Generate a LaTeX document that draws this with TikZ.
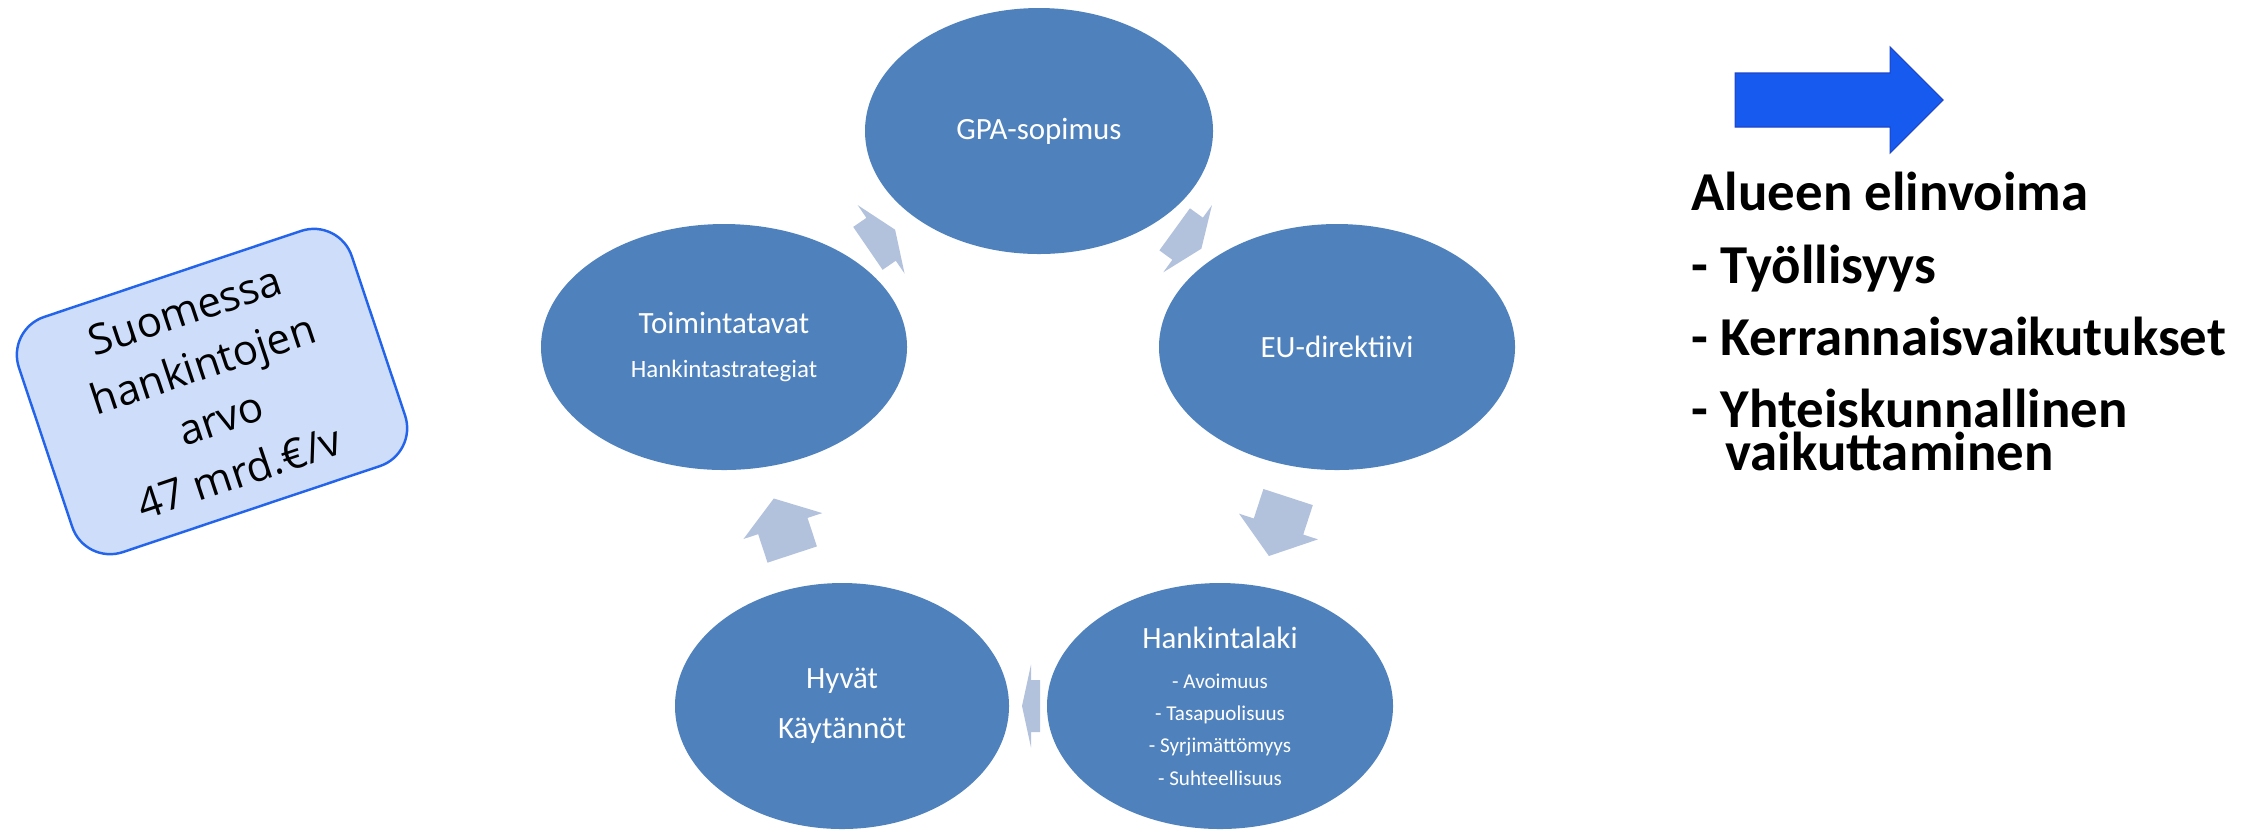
\documentclass[tikz,border=0pt]{standalone}
\usepackage{fontspec}
\setmainfont{Carlito}
\newfontfamily\boxfont{Open Sans}
\usepackage{tikz}
\usetikzlibrary{shapes.geometric,calc}
\definecolor{cycblue}{RGB}{79,129,189}
\definecolor{cycpale}{RGB}{178,194,221}
\definecolor{boxfill}{RGB}{206,222,250}
\definecolor{boxline}{RGB}{35,100,235}
\definecolor{arrblue}{RGB}{22,90,240}
\definecolor{arrline}{RGB}{30,70,200}

\begin{document}
\begin{tikzpicture}[
node distance=0pt,
    E/.style = {ellipse, fill=cycblue, text=white,% styles of cycle nodes
                minimum width=3.5cm, minimum height=2.46cm,
                inner sep=0pt, align=center,
                font=\fontsize{8.8pt}{10.6pt}\selectfont},
    P/.style = {fill=cycpale},% block arrows between cycle nodes
    R/.style = {rectangle, rounded corners=4mm, draw=boxline, line width=0.7pt,
                fill=boxfill, minimum width=3.51cm, minimum height=2.48cm,
                inner sep=0pt, rotate=18.5, align=center,
                font=\boxfont\fontsize{11.95pt}{16.2pt}\selectfont},
    L/.style = {anchor=base west, align=left, inner sep=0pt,
                font=\bfseries\fontsize{15.6pt}{20.5pt}\selectfont},
                        ]
\useasboundingbox (0,0) rectangle (22.67,-8.30);
% cycle
\node[E, minimum width=3.48cm] (gpa) at (10.39,-1.31) {GPA-sopimus};
\node[E, minimum width=3.56cm] (eu)  at (13.37,-3.47) {EU-direktiivi};
\node[E, minimum width=3.46cm, font=\fontsize{6pt}{9.19pt}\selectfont] (hank) at (12.20,-7.06)
     {{\fontsize{8.8pt}{9.19pt}\selectfont Hankintalaki}\\[2.2pt]
      - Avoimuus\\ - Tasapuolisuus\\ - Syrjimättömyys\\ - Suhteellisuus};
\node[E, minimum width=3.34cm, font=\fontsize{8.8pt}{14.2pt}\selectfont] (hyv) at (8.42,-7.06) {Hyvät\\Käytännöt};
\node[E, minimum width=3.66cm, font=\fontsize{7.1pt}{12.5pt}\selectfont] (toim) at (7.24,-3.47)
     {{\fontsize{8.8pt}{12.5pt}\selectfont Toimintatavat}\\Hankintastrategiat};
\foreach \a/\b/\s/\h in {toim/gpa/.16/.17,gpa/eu/.16/.17,eu/hank/.31/.31,hank/hyv/.09/.09,hyv/toim/.30/.29}
{
  \pgfmathanglebetweenpoints{\pgfpointanchor{\a}{center}}{\pgfpointanchor{\b}{center}}
  \let\cycang\pgfmathresult
  \pgfmathsetmacro\bk{-(\s+\h)/2}
  \pgfmathsetmacro\bs{\bk+\s}
  \pgfmathsetmacro\tp{(\s+\h)/2}
  \fill[P, shift={($(\a.center)!.5!(\b.center)$)}, rotate=\cycang]
     (\bk,-.26) -- (\bs,-.26) -- (\bs,-.415) -- (\tp,0) -- (\bs,.415) -- (\bs,.26) -- (\bk,.26) -- cycle;
}
% left box
\node[R] (arvo) at (2.12,-3.915) {Suomessa\\hankintojen\\arvo\\47 mrd.€/v};
% right side
\fill[arrblue, draw=arrline, line width=0.3pt] (17.35,-0.73) -- (18.90,-0.73) -- (18.90,-0.47)
     -- (19.43,-1.00) -- (18.90,-1.53) -- (18.90,-1.27) -- (17.35,-1.27) -- cycle;
\node[L] (elinvoima) at (16.91,-4.707) {Alueen elinvoima\\- Työllisyys\\- Kerrannaisvaikutukset\\- Yhteiskunnallinen\\[-8.1pt]\hspace*{0.34cm}vaikuttaminen};
\end{tikzpicture}
\end{document}
